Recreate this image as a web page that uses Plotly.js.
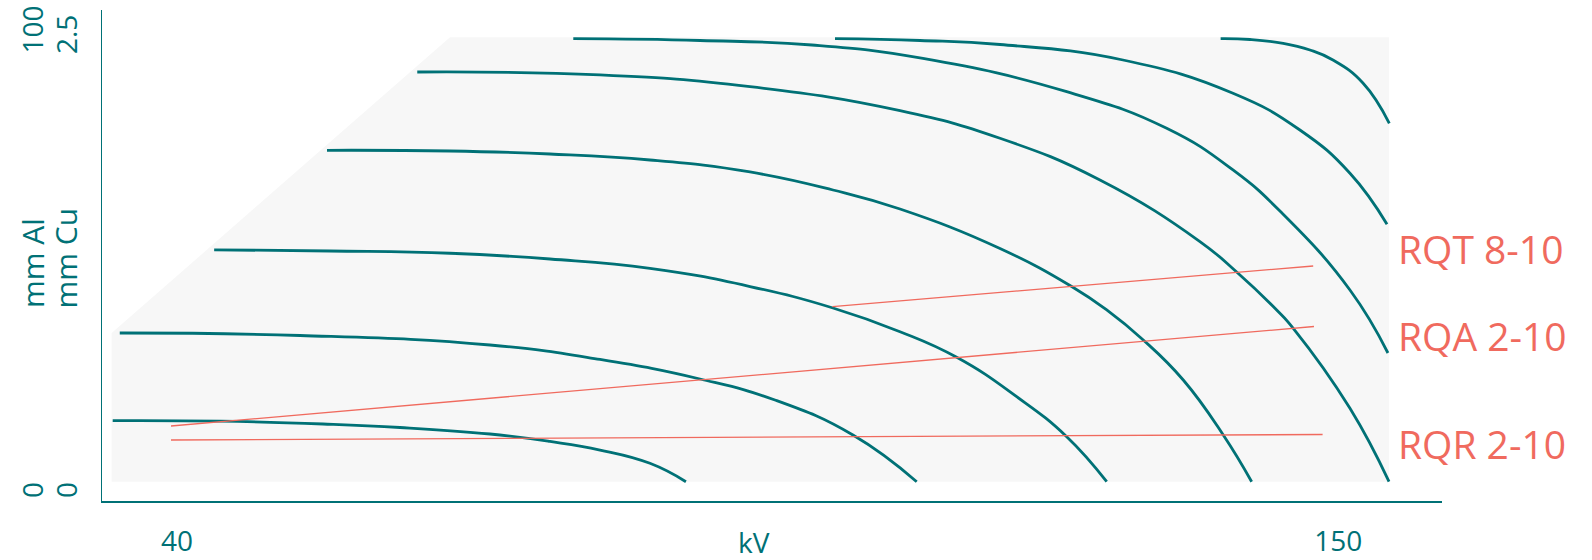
<!DOCTYPE html>
<html><head><meta charset="utf-8">
<script src="https://cdn.plot.ly/plotly-3.0.1.min.js"></script>
<style>html,body{margin:0;padding:0;background:#fff;} #chart{width:1592px;height:560px;}</style>
</head><body><div id="chart"></div>
<script>
// valid region (background)
const regionKv = [33.81, 33.81, 65.86, 154.81, 154.81, 33.81];
const regionAl = [0, 33.46, 100, 100, 0, 0];

// filter curves (kV vs mm Al)
const curveKv1 = [33.91, 44.07, 53.83, 61.12, 69.65, 75.33, 80.07, 84.80, 88.21];
const curveAl1 = [13.73, 13.61, 12.98, 12.20, 10.73, 9.05, 7.13, 4.14, 0];
const curveKv2 = [34.58, 51.65, 69.65, 80.07, 89.54, 96.64, 104.03, 110.07];
const curveAl2 = [33.46, 32.90, 30.76, 27.50, 23.11, 18.38, 10.51, 0];
const curveKv3 = [43.52, 54.49, 65.86, 75.33, 84.80, 94.28, 102.14, 108.49, 113.86, 119.54, 124.28, 128.07];
const curveAl3 = [52.18, 51.91, 51.40, 50.11, 48.02, 43.92, 39.09, 33.75, 27.99, 19.13, 10.13, 0];
const curveKv4 = [54.21, 65.86, 75.33, 84.80, 94.28, 102.14, 108.49, 117.96, 124.75, 128.07, 131.53, 135.32, 139.11, 141.80];
const curveAl4 = [74.57, 74.41, 73.74, 72.39, 69.69, 65.64, 61.36, 52.48, 43.92, 38.64, 31.89, 22.88, 10.51, 0];
const curveKv5 = [62.76, 80.07, 94.28, 108.49, 117.96, 127.43, 136.90, 140.38, 144.17, 145.74, 151.11, 154.81];
const curveAl5 = [92.19, 91.52, 88.88, 83.48, 77.27, 67.89, 54.03, 47.19, 38.64, 34.52, 16.52, 0];
const curveKv6 = [77.54, 89.54, 100.15, 110.66, 124.28, 133.75, 140.03, 144.76, 151.11, 154.71];
const curveAl6 = [99.68, 99.28, 98.27, 95.23, 87.76, 79.52, 70.14, 60.24, 43.14, 28.96];
const curveKv7 = [102.33, 110.38, 117.96, 129.61, 140.03, 146.37, 151.11, 154.62];
const curveAl7 = [99.68, 99.28, 98.38, 94.89, 87.40, 79.14, 69.40, 57.92];
const curveKv8 = [138.86, 141.64, 144.79, 147.32, 149.50, 152.34, 154.84];
const curveAl8 = [99.68, 99.50, 98.65, 97.14, 94.89, 89.72, 80.65];

// beam quality lines
const qualityNames = ['RQT 8-10', 'RQA 2-10', 'RQR 2-10'];
const qualityKv = [[102.09, 147.63], [39.43, 147.70], [39.43, 148.52]];
const qualityAl = [[39.40, 48.54], [12.53, 34.92], [9.38, 10.62]];
const qualityLabelAl = [52.52, 33.01, 8.6];

// axis labels
const xTickVals = [40, 150];
const xTickText = ['40', '150'];
const xTitle = 'kV';
const yTicksAl = ['0', '100'];
const yTicksCu = ['0', '2.5'];
const yTitleAl = 'mm Al';
const yTitleCu = 'mm Cu';

const teal = '#007176';
const red = '#f06a5e';
const font = 'Open Sans, Noto Sans, sans-serif';

const curvesKv = [curveKv1, curveKv2, curveKv3, curveKv4, curveKv5, curveKv6, curveKv7, curveKv8];
const curvesAl = [curveAl1, curveAl2, curveAl3, curveAl4, curveAl5, curveAl6, curveAl7, curveAl8];

const traces = [{
  x: regionKv, y: regionAl, type: 'scatter', mode: 'lines', fill: 'toself',
  fillcolor: '#f7f7f7', line: {width: 0, color: '#f7f7f7'}, hoverinfo: 'skip', showlegend: false
}];
curvesKv.forEach((kv, i) => {
  traces.push({x: kv, y: curvesAl[i], type: 'scatter', mode: 'lines',
    line: {color: teal, width: 2.8, shape: 'spline', smoothing: 1.3}, showlegend: false});
});
qualityKv.forEach((kv, i) => {
  traces.push({x: kv, y: qualityAl[i], type: 'scatter', mode: 'lines', name: qualityNames[i],
    line: {color: red, width: 1.3}, showlegend: false});
});

const annotations = [];
qualityNames.forEach((n, i) => {
  annotations.push({x: 155.5, y: qualityLabelAl[i], xref: 'x', yref: 'y', text: n, showarrow: false,
    xanchor: 'left', yanchor: 'middle', font: {family: font, size: 39, color: red}});
});
annotations.push({x: 94.66, y: -0.0835, xref: 'x', yref: 'paper', text: xTitle, showarrow: false,
  xanchor: 'center', yanchor: 'middle', font: {family: font, size: 28, color: teal}});
const colX = [-0.05224, -0.02687];
const yLab = [[yTicksAl[0], yTitleAl, yTicksAl[1]], [yTicksCu[0], yTitleCu, yTicksCu[1]]];
const yPos = [0.002, 0.389, 0.9073];
const ySize = [28, 30, 28];
yLab.forEach((col, c) => {
  col.forEach((t, k) => {
    annotations.push({x: colX[c], y: yPos[k], xref: 'paper', yref: 'paper', text: t, showarrow: false,
      textangle: -90, xanchor: 'center', yanchor: 'bottom', font: {family: font, size: ySize[k], color: teal}});
  });
});

const layout = {
  width: 1592, height: 560,
  margin: {l: 102, r: 150, t: 10, b: 59, autoexpand: false},
  paper_bgcolor: '#ffffff', plot_bgcolor: '#ffffff',
  showlegend: false,
  xaxis: {range: [32.896, 159.83], showline: true, linecolor: teal, linewidth: 1.5, showgrid: false,
    zeroline: false, ticks: '', tickvals: xTickVals, ticktext: xTickText, ticklabelstandoff: 15,
    tickfont: {family: font, size: 28, color: teal}},
  yaxis: {range: [-4.343, 106.14], showline: true, linecolor: teal, linewidth: 1.5, showgrid: false,
    zeroline: false, ticks: '', showticklabels: false},
  annotations: annotations
};
Plotly.newPlot('chart', traces, layout, {displayModeBar: false, staticPlot: true});
</script></body></html>
